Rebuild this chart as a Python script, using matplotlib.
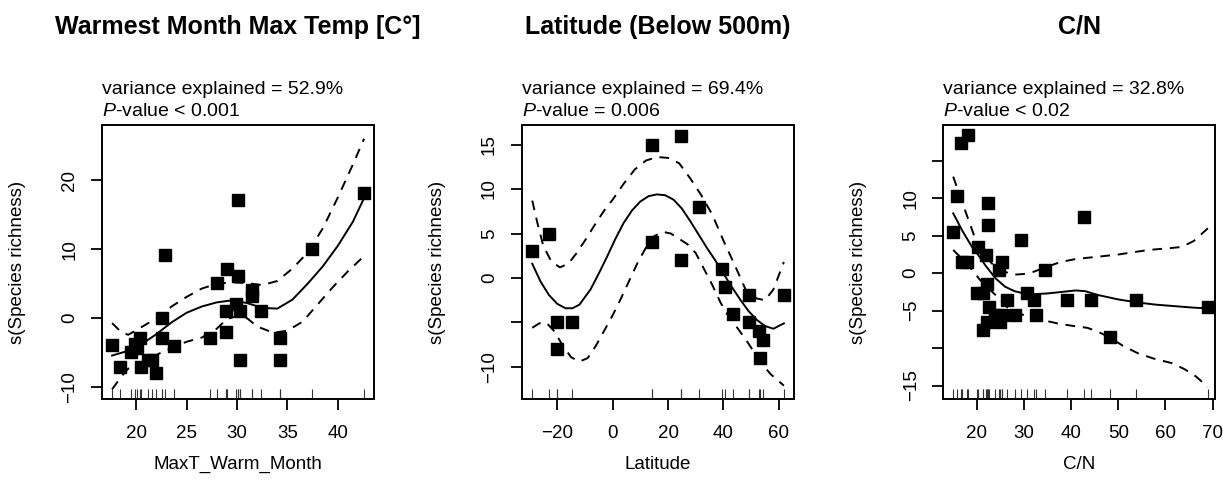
import matplotlib
matplotlib.use("Agg")
import matplotlib.pyplot as plt

plt.rcParams['font.family'] = ['Liberation Sans', 'DejaVu Sans']
plt.rcParams['mathtext.fontset'] = 'custom'
plt.rcParams['mathtext.it'] = 'Liberation Sans:italic'
plt.rcParams['mathtext.rm'] = 'Liberation Sans'

# ---- panel 1: warmest month max temp ----
temp_x = [17.6, 18.4, 19.5, 19.9, 20.1, 20.4, 20.5, 21.2, 21.6, 22.0, 22.6, 22.6, 22.9,
          23.7, 27.3, 28.0, 28.95, 28.95, 29.0, 29.9, 30.1, 30.1, 30.3, 30.3, 31.5,
          31.5, 32.4, 34.3, 34.3, 37.4, 42.6]
temp_y = [-3.9, -7.0, -4.9, -3.8, -4.3, -2.9, -7.0, -6.0, -6.0, -7.9, -2.9, 0.1, 9.1,
          -4.0, -2.9, 5.1, -2.0, 1.1, 7.1, 2.1, 17.1, 6.1, 1.1, -6.0, 4.1,
          3.2, 1.1, -2.9, -6.0, 10.1, 18.2]
temp_fit_x = [17.6, 19, 20.5, 22, 23.5, 25, 26.5, 28, 29.5, 31, 32.5, 34, 35.5, 37, 38.5, 40, 41.5, 42.6]
temp_fit = [-5.4, -4.8, -3.8, -2.3, -0.6, 0.8, 1.7, 2.3, 2.6, 2.2, 1.5, 1.4, 2.7, 5.0, 7.5, 10.5, 14.0, 17.4]
temp_up_x = [17.6, 18.5, 19.2, 20.5, 22, 23.5, 25, 26.5, 28, 29.5, 31, 32.5, 34, 35.5, 37, 38.5, 40, 41.5, 42.6]
temp_up = [-0.7, -2.0, -2.4, -1.3, 0.0, 1.7, 3.1, 4.3, 5.0, 5.2, 5.1, 4.8, 5.4, 7.2, 9.5, 13.0, 17.5, 22.3, 26.0]
temp_lo_x = [17.6, 18.5, 19.2, 20.5, 22, 23.5, 25, 26.5, 28, 29, 30.3, 31, 32, 33.6, 35, 36.5, 38, 39.5, 41, 42.6]
temp_lo = [-10.3, -8.5, -7.3, -6.4, -5.3, -4.3, -3.4, -2.8, -1.5, -0.1, 0.4, 0.0, -1.2, -2.1, -1.8, -0.5, 2.0, 4.5, 6.8, 9.0]

# ---- panel 2: latitude ----
lat_x = [-29.0, -23.0, -20.0, -14.8, -20.0, 14.1, 24.5, 14.1, 24.5, 31.2, 39.3, 40.5,
         49.2, 61.9, 43.6, 49.2, 52.8, 54.2, 53.1]
lat_y = [3.0, 5.0, -5.0, -5.0, -8.0, 15.0, 16.0, 4.0, 2.0, 8.0, 1.0, -1.0,
         -1.9, -1.9, -4.0, -5.0, -6.0, -7.0, -9.0]
lat_fit_x = [-29, -26, -23, -20, -17, -14.5, -12, -8, -5, -2, 1, 4, 7, 10, 13, 16, 19, 22,
             25, 28, 31, 34, 37, 40, 43, 46, 49, 52, 55, 58, 61.8]
lat_fit = [1.6, -0.4, -1.9, -2.9, -3.4, -3.4, -3.0, -1.3, 0.5, 2.4, 4.4, 6.2, 7.6, 8.6, 9.2,
           9.4, 9.3, 8.8, 7.8, 6.4, 4.9, 3.4, 2.0, 0.5, -1.0, -2.4, -3.7, -4.7, -5.4, -5.7, -5.1]
lat_up_x = [-29, -27, -25, -22, -19, -16, -13, -10, -6, -3, 0, 4, 8, 12, 16, 20, 24, 28,
            32, 36, 40, 44, 48, 52, 55, 58, 61.8]
lat_up = [8.7, 6.0, 3.6, 1.8, 1.2, 1.6, 2.8, 4.2, 6.2, 7.6, 8.8, 10.6, 12.2, 13.2, 13.6,
          13.5, 12.9, 11.2, 9.3, 7.1, 4.2, 1.5, -1.3, -2.3, -2.5, -1.3, 1.8]
lat_lo_x = [-29, -26.5, -24, -21, -18, -15, -12, -9, -6, -3, 0, 3, 6, 9, 12, 15, 18, 21,
            24, 27, 30, 33, 36, 39, 42, 45, 48, 51, 54, 57, 61.8]
lat_lo = [-5.6, -5.1, -5.0, -6.0, -7.6, -8.9, -9.4, -9.0, -7.6, -5.9, -4.2, -2.3, -0.3, 1.7,
          3.4, 4.7, 5.2, 5.0, 4.4, 3.8, 2.8, 1.0, -0.8, -2.8, -4.4, -5.6, -6.9, -8.3, -9.7, -10.8, -12.1]

# ---- panel 3: C/N ----
cn_x = [15.0, 15.9, 16.6, 18.2, 16.8, 17.9, 20.0, 20.3, 21.3, 21.4, 22.0, 22.1, 22.1, 22.3,
        22.3, 22.5, 23.9, 24.9, 24.8, 25.3, 25.3, 26.4, 28.2, 29.3, 30.7, 32.1, 32.6, 34.4,
        39.2, 42.8, 44.2, 48.3, 53.8, 69.0]
cn_y = [5.5, 10.3, 17.4, 18.4, 1.5, 1.5, -2.6, 3.5, -7.6, -2.6, 2.4, -1.5, -6.5, 9.4,
        6.4, -4.5, -5.6, -6.5, 0.4, 1.5, -5.6, -3.6, -5.6, 4.4, -2.6, -3.6, -5.6, 0.4,
        -3.6, 7.5, -3.6, -8.5, -3.6, -4.5]
cn_fit_x = [15, 17, 19, 20, 22, 24, 26, 28, 30, 32, 35, 38, 41, 43, 45.6, 50, 54, 58, 62, 66, 69]
cn_fit = [8.0, 5.6, 3.5, 2.7, 0.9, -0.7, -1.8, -2.4, -2.7, -2.8, -2.7, -2.5, -2.3, -2.4, -2.9,
          -3.5, -3.9, -4.2, -4.4, -4.6, -4.7]
cn_up_x = [15, 17, 19, 20, 21.5, 23.2, 25, 27.8, 30, 32.1, 35, 37.8, 41, 45.6, 50, 56.3, 60, 63.4, 66, 69]
cn_up = [12.9, 9.3, 5.8, 4.0, 2.5, 1.3, 0.4, -0.2, -0.1, 0.2, 0.9, 1.5, 1.9, 2.2, 2.5, 3.1, 3.3, 3.5, 4.3, 6.0]
cn_lo_x = [15, 17.9, 20.7, 22.1, 24.3, 26.4, 28, 30, 33.5, 37.1, 40, 43.5, 46, 48.5, 51, 54.2,
           57.5, 61.3, 64, 66.5, 69]
cn_lo = [3.1, 1.3, -0.9, -1.8, -3.1, -4.5, -5.1, -5.6, -6.2, -6.7, -7.0, -7.3, -7.9, -8.7, -9.7,
         -10.7, -11.4, -12.0, -12.8, -13.8, -15.2]

panels = [
    dict(title="Warmest Month Max Temp [C°]", xlabel="MaxT_Warm_Month",
         var="variance explained = 52.9%", p=r"$\it{P}$-value < 0.001",
         x=temp_x, y=temp_y, fx=temp_fit_x, f=temp_fit, ux=temp_up_x, u=temp_up,
         lx=temp_lo_x, l=temp_lo, xlim=(16.6, 43.6), ylim=(-11.7, 28.0),
         xticks=[20, 25, 30, 35, 40], yticks=[-10, 0, 10, 20],
         ylabels=["\u221210", "0", "10", "20"], left=0.0834),
    dict(title="Latitude (Below 500m)", xlabel="Latitude",
         var="variance explained = 69.4%", p=r"$\it{P}$-value = 0.006",
         x=lat_x, y=lat_y, fx=lat_fit_x, f=lat_fit, ux=lat_up_x, u=lat_up,
         lx=lat_lo_x, l=lat_lo, xlim=(-32.8, 65.4), ylim=(-13.6, 17.2),
         xticks=[-20, 0, 20, 40, 60], yticks=[-10, -5, 0, 5, 10, 15],
         ylabels=["\u221210", "", "0", "5", "10", "15"], left=0.4266),
    dict(title="C/N", xlabel="C/N",
         var="variance explained = 32.8%", p=r"$\it{P}$-value < 0.02",
         x=cn_x, y=cn_y, fx=cn_fit_x, f=cn_fit, ux=cn_up_x, u=cn_up,
         lx=cn_lo_x, l=cn_lo, xlim=(12.9, 70.6), ylim=(-16.8, 19.8),
         xticks=[20, 30, 40, 50, 60, 70], yticks=[-15, -10, -5, 0, 5, 10, 15],
         ylabels=["\u221215", "", "\u22125", "0", "5", "10", ""], left=0.7713),
]

fig = plt.figure(figsize=(12.23, 4.94), dpi=100)

for pn in panels:
    ax = fig.add_axes([pn["left"], 0.1923, 0.2225, 0.5547])
    ax.plot(pn["x"], pn["y"], "s", color="black", ms=9, zorder=3)
    ax.plot(pn["fx"], pn["f"], color="black", lw=1.4)
    ax.plot(pn["ux"], pn["u"], color="black", lw=1.4, dashes=(5, 4))
    ax.plot(pn["lx"], pn["l"], color="black", lw=1.4, dashes=(5, 4))
    ax.vlines(pn["x"], 0, 0.035, transform=ax.get_xaxis_transform(), color="#333333", lw=0.8)
    ax.set_xlim(*pn["xlim"])
    ax.set_ylim(*pn["ylim"])
    ax.set_xticks(pn["xticks"])
    ax.set_xticklabels([str(t).replace("-", "\u2212") for t in pn["xticks"]])
    ax.set_yticks(pn["yticks"])
    ax.set_yticklabels(pn["ylabels"], rotation=90, va="center")
    ax.tick_params(length=8, width=1.3, labelsize=13.5)
    ax.tick_params(axis="x", pad=11)
    ax.tick_params(axis="y", pad=9)
    for s in ax.spines.values():
        s.set_linewidth(1.4)
    ax.set_ylabel("s(Species richness)", fontsize=13.5)
    ax.yaxis.set_label_coords(-0.28, 0.5)
    ax.text(0.5, -0.24, pn["xlabel"], transform=ax.transAxes, ha="center", va="center", fontsize=13.5)
    ax.text(0.5, 1.358, pn["title"], transform=ax.transAxes, ha="center", va="center",
            fontsize=18, fontweight="bold")
    ax.text(0.0, 1.131, pn["var"], transform=ax.transAxes, ha="left", va="center", fontsize=14)
    ax.text(0.0, 1.051, pn["p"], transform=ax.transAxes, ha="left", va="center", fontsize=14)

fig.savefig("out.png", dpi=100)
